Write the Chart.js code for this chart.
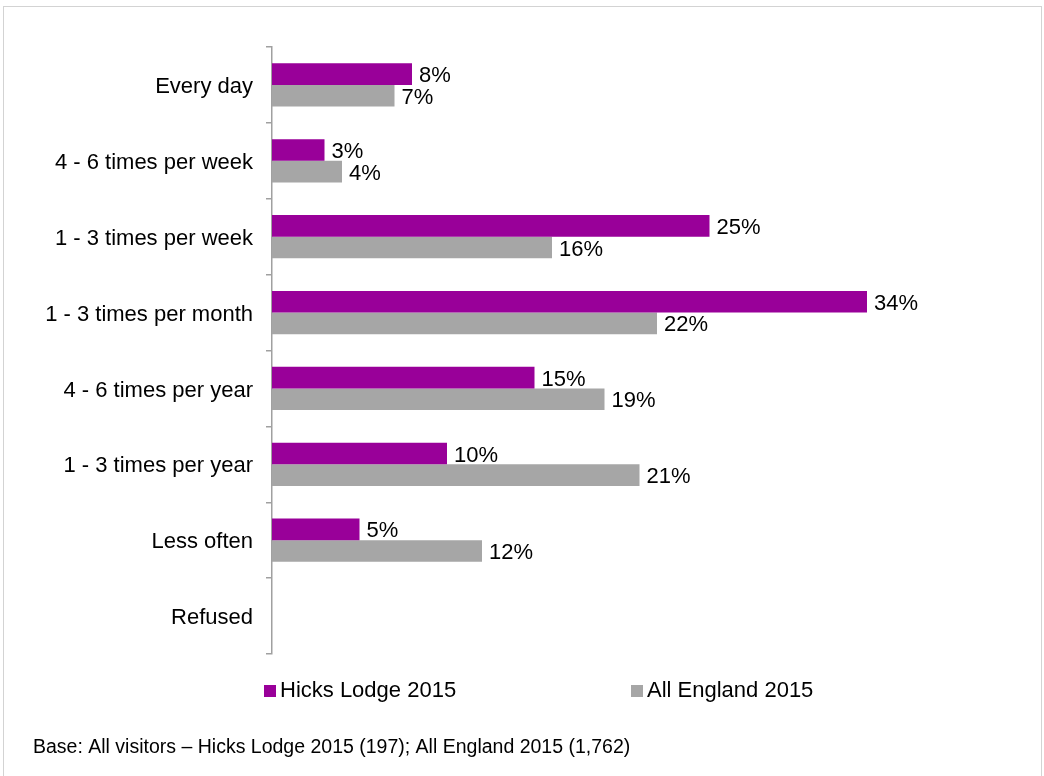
<!DOCTYPE html>
<html>
<head>
<meta charset="utf-8">
<script src="https://cdn.jsdelivr.net/npm/chart.js@4/dist/chart.umd.min.js"></script>
<style>
  html, body { margin: 0; padding: 0; background: #fff; }
  #wrap { position: relative; width: 1044px; height: 776px; }
  #frame { position: absolute; left: 3px; top: 6px; width: 1039px; height: 780px;
           border: 1.5px solid #d3d3d3; box-sizing: border-box; pointer-events: none; }
  canvas { position: absolute; left: 0; top: 0; }
</style>
</head>
<body>
<div id="wrap">
  <canvas id="chart" width="1044" height="776"></canvas>
  <div id="frame"></div>
</div>
<script>
// Visit frequency categories
const categories = [
  'Every day',
  '4 - 6 times per week',
  '1 - 3 times per week',
  '1 - 3 times per month',
  '4 - 6 times per year',
  '1 - 3 times per year',
  'Less often',
  'Refused'
];

// Percent of visitors per frequency band
const hicksLodge2015 = [8, 3, 25, 34, 15, 10, 5, null];
const allEngland2015 = [7, 4, 16, 22, 19, 21, 12, null];

const seriesNames = ['Hicks Lodge 2015', 'All England 2015'];
const seriesColors = ['#990099', '#a6a6a6'];
const footnote = 'Base: All visitors \u2013 Hicks Lodge 2015 (197); All England 2015 (1,762)';

const FONT = '"Liberation Sans", Arial, sans-serif';

// Percentage labels at the end of each bar
const valueLabels = {
  id: 'valueLabels',
  afterDatasetsDraw(chart) {
    const ctx = chart.ctx;
    ctx.save();
    ctx.font = '22px ' + FONT;
    ctx.fillStyle = '#000';
    ctx.textAlign = 'left';
    ctx.textBaseline = 'middle';
    chart.data.datasets.forEach((ds, di) => {
      const meta = chart.getDatasetMeta(di);
      meta.data.forEach((bar, i) => {
        const v = ds.data[i];
        if (v === null || v === undefined) return;
        ctx.fillText(v + '%', bar.x + 7, bar.y + 2);
      });
    });
    ctx.restore();
  }
};

// Legend row and base note beneath the plot
const legendAndNote = {
  id: 'legendAndNote',
  afterDraw(chart) {
    const ctx = chart.ctx;
    ctx.save();
    ctx.font = '22px ' + FONT;
    ctx.textBaseline = 'middle';
    ctx.textAlign = 'left';
    const xs = [264, 631];
    chart.data.datasets.forEach((ds, di) => {
      ctx.fillStyle = ds.backgroundColor;
      ctx.fillRect(xs[di], 685, 12, 12);
      ctx.fillStyle = '#000';
      ctx.fillText(ds.label, xs[di] + 16, 691);
    });
    ctx.font = '19.5px ' + FONT;
    ctx.fillText(footnote, 33, 748);
    ctx.restore();
  }
};

new Chart(document.getElementById('chart'), {
  type: 'bar',
  data: {
    labels: categories,
    datasets: [
      { label: seriesNames[0], data: hicksLodge2015, backgroundColor: seriesColors[0] },
      { label: seriesNames[1], data: allEngland2015, backgroundColor: seriesColors[1] }
    ]
  },
  options: {
    indexAxis: 'y',
    responsive: false,
    animation: false,
    layout: { padding: { left: 0, right: 72, top: 47, bottom: 122 } },
    datasets: { bar: { categoryPercentage: 0.57, barPercentage: 1.0 } },
    plugins: {
      legend: { display: false },
      tooltip: { enabled: false }
    },
    scales: {
      x: { display: false, min: 0, max: 40 },
      y: {
        afterFit(scale) { scale.width = 272; },
        grid: {
          drawOnChartArea: false,
          drawTicks: true,
          tickLength: 6,
          offset: true,
          color: '#a0a0a0',
          lineWidth: 1.5
        },
        border: { color: '#a0a0a0', width: 1.5 },
        ticks: {
          color: '#000',
          padding: 13,
          labelOffset: 2,
          font: { family: FONT, size: 22 }
        }
      }
    }
  },
  plugins: [valueLabels, legendAndNote]
});
</script>
</body>
</html>
